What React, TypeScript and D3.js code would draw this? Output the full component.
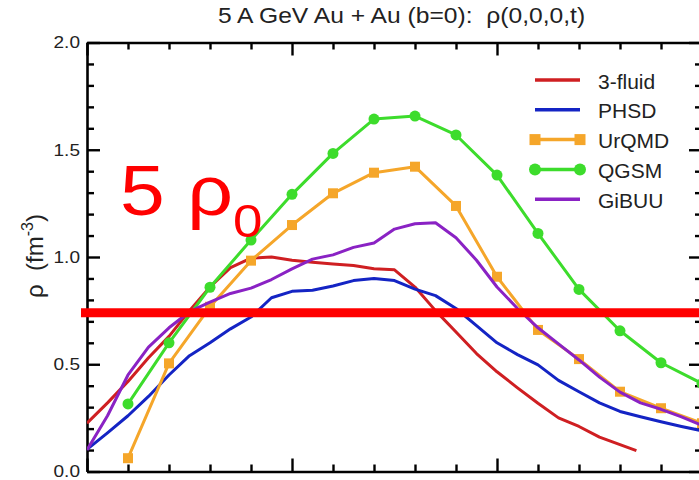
import * as d3 from "d3";
import React, { useRef, useEffect } from "react";

const width = 699;
const height = 480;
// plot box (the right axis sits just past the picture edge)
const box = { left: 87, right: 702, top: 42.5, bottom: 471.5 };
const font = "'Liberation Sans', Arial, Helvetica, sans-serif";

const title = "5 A GeV Au + Au (b=0):  ρ(0,0,0,t)";
const yMajor = [0, 0.5, 1.0, 1.5, 2.0];
const xMajor = [0, 5, 10, 15];
const rho5 = 0.74; // the red "5 rho0" level

// time grid for the continuous curves (fm/c)
const tGrid = [
  0, 0.5, 1, 1.5, 2, 2.5, 3, 3.5, 4, 4.5, 5, 5.5, 6, 6.5, 7, 7.5, 8, 8.5, 9,
  9.5, 10, 10.5, 11, 11.5, 12, 12.5, 13, 13.5, 14, 14.5, 15,
];
const fluidT = [
  0, 0.5, 1, 1.5, 2, 2.5, 3, 3.5, 4, 4.5, 5, 5.5, 6, 6.5, 7, 7.5, 8, 8.5, 9,
  9.5, 10, 10.5, 11, 11.5, 12, 12.5, 13, 13.4,
];
const fluidRho = [
  0.225, 0.32, 0.42, 0.53, 0.63, 0.75, 0.86, 0.95, 0.995, 1.0, 0.985, 0.975,
  0.967, 0.96, 0.945, 0.94, 0.86, 0.75, 0.65, 0.55, 0.465, 0.39, 0.318, 0.25,
  0.21, 0.16, 0.125, 0.097,
];
const phsdRho = [
  0.103, 0.18, 0.26, 0.35, 0.45, 0.54, 0.6, 0.665, 0.72, 0.81, 0.84, 0.845,
  0.865, 0.89, 0.9, 0.89, 0.85, 0.82, 0.76, 0.68, 0.6, 0.545, 0.497, 0.425,
  0.372, 0.32, 0.28, 0.255, 0.232, 0.21, 0.19,
];
const gibuuRho = [
  0.1, 0.26, 0.45, 0.58, 0.67, 0.745, 0.79, 0.83, 0.855, 0.895, 0.945, 0.99,
  1.01, 1.045, 1.065, 1.13, 1.155, 1.16, 1.09, 0.985, 0.86, 0.76, 0.67, 0.595,
  0.52, 0.44, 0.37, 0.32, 0.29, 0.255, 0.215,
];
// marker curves, one point per fm/c
const markT = [1, 2, 3, 4, 5, 6, 7, 8, 9, 10, 11, 12, 13, 14, 15];
const urqmdRho = [
  0.062, 0.504, 0.768, 0.983, 1.149, 1.297, 1.393, 1.421, 1.238, 0.908, 0.66,
  0.524, 0.372, 0.295, 0.225,
];
const qgsmRho = [
  0.315, 0.6, 0.859, 1.079, 1.292, 1.483, 1.643, 1.657, 1.569, 1.382, 1.11,
  0.849, 0.656, 0.507, 0.41,
];

const series = [
  { name: "3-fluid", color: "#cf1f22", t: fluidT, v: fluidRho, mark: "none" },
  { name: "PHSD", color: "#1424c4", t: tGrid, v: phsdRho, mark: "none" },
  { name: "UrQMD", color: "#f5a62a", t: markT, v: urqmdRho, mark: "square" },
  { name: "QGSM", color: "#3ddc2c", t: markT, v: qgsmRho, mark: "circle" },
  { name: "GiBUU", color: "#8a22c4", t: tGrid, v: gibuuRho, mark: "none" },
];

const App = () => {
  const svgRef = useRef(null);

  useEffect(() => {
    const svg = d3.select(svgRef.current);
    svg.selectAll("*").remove();

    const x = d3.scaleLinear().domain([0, 15]).range([box.left, box.right]);
    const y = d3.scaleLinear().domain([0, 2]).range([box.bottom, box.top]);

    svg
      .append("defs")
      .append("clipPath")
      .attr("id", "plotclip")
      .append("rect")
      .attr("x", box.left)
      .attr("y", box.top)
      .attr("width", box.right - box.left)
      .attr("height", box.bottom - box.top);

    const xMinor = d3.range(0, 16).filter((d) => d % 5 !== 0);
    const yMinor = d3.range(0, 21).map((d) => d / 10).filter((d) => !yMajor.includes(d));

    const styleAxis = (g) => {
      g.select(".domain").attr("stroke", "#000").attr("stroke-width", 2.6);
      g.selectAll(".tick line").attr("stroke", "#000").attr("stroke-width", 2.4);
      g.selectAll("text")
        .attr("font-family", font)
        .attr("font-size", 17)
        .attr("fill", "#222");
    };

    // all ticks point into the plot
    const addAxis = (axisFn, pos, transform, minorVals, majorVals, fmt) => {
      const g = svg.append("g").attr("transform", transform);
      g.append("g").call(
        axisFn(pos).tickValues(minorVals).tickSize(-7).tickSizeOuter(0).tickFormat(() => "")
      );
      const major = g
        .append("g")
        .call(
          axisFn(pos)
            .tickValues(majorVals)
            .tickSize(-13)
            .tickSizeOuter(0)
            .tickPadding(7)
            .tickFormat(fmt)
        );
      styleAxis(g);
      return major;
    };

    const left = addAxis(d3.axisLeft, y, `translate(${box.left},0)`, yMinor, yMajor, d3.format(".1f"));
    left.selectAll("text").each(function () {
      const t = d3.select(this);
      const tx = +t.attr("x");
      t.attr("x", 0).attr("transform", `translate(${tx},0) scale(1.12,1)`);
    });
    addAxis(d3.axisRight, y, `translate(${box.right},0)`, yMinor, yMajor, () => "");
    addAxis(d3.axisTop, x, `translate(0,${box.top})`, xMinor, xMajor, () => "");
    // the time labels fall below the cropped bottom edge
    addAxis(d3.axisBottom, x, `translate(0,${box.bottom})`, xMinor, xMajor, () => "");

    // curves
    const plot = svg.append("g").attr("clip-path", "url(#plotclip)");
    const line = d3
      .line()
      .x((d) => x(d[0]))
      .y((d) => y(d[1]));

    series.forEach((s) => {
      const pts = s.t.map((t, i) => [t, s.v[i]]);
      plot
        .append("path")
        .datum(pts)
        .attr("d", line)
        .attr("fill", "none")
        .attr("stroke", s.color)
        .attr("stroke-width", 3)
        .attr("stroke-linejoin", "round");
      if (s.mark === "square") {
        plot
          .selectAll(null)
          .data(pts)
          .join("rect")
          .attr("x", (d) => x(d[0]) - 5)
          .attr("y", (d) => y(d[1]) - 5)
          .attr("width", 10)
          .attr("height", 10)
          .attr("fill", s.color);
      } else if (s.mark === "circle") {
        plot
          .selectAll(null)
          .data(pts)
          .join("circle")
          .attr("cx", (d) => x(d[0]))
          .attr("cy", (d) => y(d[1]))
          .attr("r", 5.5)
          .attr("fill", s.color);
      }
    });

    // legend
    const legend = svg.append("g").attr("transform", "translate(535,80)");
    series.forEach((s, i) => {
      const row = legend.append("g").attr("transform", `translate(0,${i * 29.8})`);
      row
        .append("line")
        .attr("x1", 0)
        .attr("x2", 45)
        .attr("stroke", s.color)
        .attr("stroke-width", 3.5);
      [0, 45].forEach((cx) => {
        if (s.mark === "square")
          row.append("rect").attr("x", cx - 5.5).attr("y", -5.5).attr("width", 11).attr("height", 11).attr("fill", s.color);
        if (s.mark === "circle")
          row.append("circle").attr("cx", cx).attr("r", 6).attr("fill", s.color);
      });
      row
        .append("text")
        .attr("transform", "translate(63,8.5) scale(1.05,1)")
        .attr("font-family", font)
        .attr("font-size", 20)
        .attr("fill", "#222")
        .text(s.name);
    });

    // title
    svg
      .append("text")
      .attr("transform", "translate(401.5,23.3) scale(1.12,1)")
      .attr("text-anchor", "middle")
      .attr("font-family", font)
      .attr("font-size", 22)
      .attr("fill", "#222")
      .style("white-space", "pre")
      .text(title);

    // y label
    const yl = svg
      .append("text")
      .attr("transform", "translate(43,256) rotate(-90)")
      .attr("text-anchor", "middle")
      .attr("font-family", font)
      .attr("font-size", 24)
      .attr("fill", "#222")
      .style("white-space", "pre");
    yl.append("tspan").text("ρ  (fm");
    yl.append("tspan").attr("font-size", 16).attr("dy", -10).text("-3");
    yl.append("tspan").attr("dy", 10).text(")");

    // red "5 rho0" overlay
    svg
      .append("line")
      .attr("x1", x(0) - 6)
      .attr("x2", width)
      .attr("y1", y(rho5))
      .attr("y2", y(rho5))
      .attr("stroke", "#ff0000")
      .attr("stroke-width", 9);

    const note = svg
      .append("text")
      .attr("transform", "translate(120,215) scale(1.15,1)")
      .attr("font-family", font)
      .attr("font-size", 70)
      .attr("fill", "#ff0000");
    note.append("tspan").text("5 ρ");
    note.append("tspan").attr("font-size", 46).attr("dy", 22).text("0");
  }, []);

  return (
    <svg
      ref={svgRef}
      width={width}
      height={height}
      style={{ position: "absolute", left: 0, top: 0, background: "#fff" }}
    />
  );
};

export default App;
